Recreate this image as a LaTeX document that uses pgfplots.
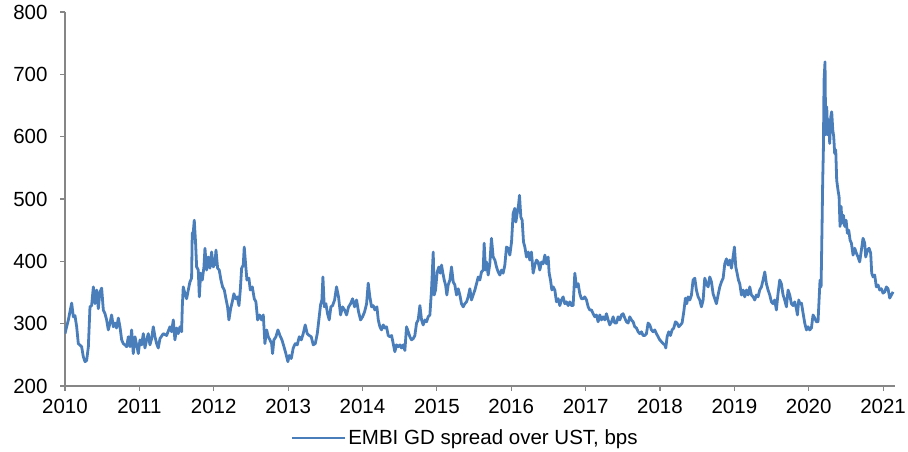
\documentclass[border=0pt]{standalone}
\usepackage{fontspec}
\setmainfont{Liberation Sans}
\usepackage{pgfplots}
\pgfplotsset{compat=1.18}
\usepackage{pgfplotstable}

\definecolor{embiblue}{RGB}{74,126,187}
\definecolor{axisgray}{RGB}{134,134,134}

% EMBI GD spread over UST, bps
\pgfplotstableread{
year spread
2010.000 284
2010.022 295
2010.045 306
2010.090 333
2010.112 311
2010.134 313
2010.157 295
2010.179 268
2010.224 263
2010.246 247
2010.269 239
2010.291 241
2010.314 263
2010.336 327
2010.358 329
2010.381 359
2010.403 332
2010.426 354
2010.448 324
2010.470 351
2010.493 357
2010.515 322
2010.538 316
2010.560 306
2010.582 290
2010.605 301
2010.627 314
2010.650 295
2010.672 301
2010.694 293
2010.717 309
2010.739 295
2010.762 274
2010.784 268
2010.806 266
2010.829 263
2010.851 279
2010.874 263
2010.896 290
2010.918 252
2010.941 279
2010.963 266
2010.986 252
2011.008 274
2011.030 266
2011.053 284
2011.075 261
2011.098 274
2011.120 284
2011.142 266
2011.165 276
2011.187 295
2011.210 279
2011.232 268
2011.254 261
2011.277 276
2011.322 284
2011.366 281
2011.411 295
2011.434 287
2011.456 306
2011.478 274
2011.501 293
2011.523 284
2011.546 295
2011.568 287
2011.577 327
2011.590 359
2011.613 348
2011.635 340
2011.658 354
2011.680 367
2011.702 373
2011.711 445
2011.725 447
2011.738 466
2011.756 429
2011.770 391
2011.792 386
2011.806 343
2011.824 381
2011.846 370
2011.868 391
2011.882 421
2011.904 386
2011.926 407
2011.949 389
2011.971 415
2011.994 391
2012.016 396
2012.030 418
2012.052 389
2012.074 386
2012.097 370
2012.119 359
2012.142 354
2012.164 340
2012.186 327
2012.204 306
2012.227 324
2012.249 335
2012.271 348
2012.294 340
2012.316 343
2012.339 329
2012.357 354
2012.375 389
2012.397 394
2012.410 423
2012.428 396
2012.446 370
2012.473 373
2012.491 354
2012.518 359
2012.545 340
2012.567 335
2012.590 306
2012.616 314
2012.643 306
2012.666 314
2012.688 268
2012.711 290
2012.733 279
2012.755 274
2012.778 268
2012.791 252
2012.809 274
2012.836 279
2012.863 290
2012.890 281
2012.917 274
2012.944 263
2012.970 252
2012.997 239
2013.015 249
2013.042 244
2013.069 261
2013.096 268
2013.123 266
2013.150 279
2013.177 274
2013.203 284
2013.230 298
2013.257 284
2013.284 281
2013.311 279
2013.338 266
2013.365 268
2013.392 284
2013.418 311
2013.436 330
2013.454 338
2013.468 375
2013.486 327
2013.508 332
2013.530 316
2013.553 306
2013.575 327
2013.598 329
2013.625 338
2013.651 359
2013.678 343
2013.705 314
2013.732 327
2013.759 322
2013.786 314
2013.813 327
2013.840 332
2013.867 340
2013.893 327
2013.920 338
2013.947 319
2013.974 306
2014.001 311
2014.028 319
2014.055 332
2014.077 365
2014.099 343
2014.122 327
2014.144 329
2014.167 322
2014.194 327
2014.212 306
2014.234 295
2014.256 290
2014.279 298
2014.301 293
2014.323 295
2014.346 281
2014.368 279
2014.391 281
2014.413 268
2014.435 255
2014.458 266
2014.480 263
2014.503 266
2014.525 261
2014.548 266
2014.570 257
2014.592 295
2014.615 287
2014.637 279
2014.659 274
2014.682 276
2014.704 281
2014.727 301
2014.749 306
2014.772 329
2014.794 306
2014.816 298
2014.839 306
2014.861 303
2014.883 311
2014.906 314
2014.928 354
2014.951 415
2014.964 346
2014.982 354
2015.004 383
2015.027 391
2015.045 381
2015.063 394
2015.081 381
2015.099 370
2015.117 362
2015.134 346
2015.152 362
2015.175 370
2015.197 391
2015.220 367
2015.242 362
2015.264 346
2015.287 356
2015.309 346
2015.331 332
2015.354 327
2015.376 332
2015.399 335
2015.421 343
2015.444 356
2015.466 338
2015.488 346
2015.511 354
2015.533 364
2015.556 375
2015.578 370
2015.600 383
2015.623 386
2015.636 429
2015.654 386
2015.667 399
2015.690 378
2015.712 396
2015.734 437
2015.757 407
2015.780 402
2015.802 391
2015.824 383
2015.847 378
2015.869 386
2015.891 381
2015.914 394
2015.936 423
2015.959 421
2015.981 410
2016.004 431
2016.026 477
2016.048 485
2016.062 463
2016.080 477
2016.098 490
2016.111 506
2016.129 471
2016.147 466
2016.165 431
2016.183 423
2016.205 407
2016.228 415
2016.250 402
2016.272 415
2016.295 381
2016.317 394
2016.340 402
2016.362 399
2016.384 386
2016.407 399
2016.429 396
2016.452 410
2016.474 396
2016.496 407
2016.510 381
2016.528 370
2016.546 354
2016.564 359
2016.586 354
2016.608 335
2016.631 340
2016.653 329
2016.675 338
2016.698 343
2016.720 332
2016.743 335
2016.765 329
2016.788 335
2016.810 329
2016.832 329
2016.855 381
2016.877 359
2016.900 364
2016.922 348
2016.944 340
2016.967 340
2016.989 343
2017.012 338
2017.034 327
2017.056 322
2017.079 322
2017.101 316
2017.124 311
2017.146 314
2017.168 303
2017.191 314
2017.213 306
2017.235 311
2017.258 306
2017.280 316
2017.303 306
2017.325 298
2017.348 303
2017.370 311
2017.392 301
2017.415 301
2017.437 311
2017.460 306
2017.482 314
2017.504 316
2017.527 309
2017.549 303
2017.572 301
2017.594 311
2017.616 306
2017.639 303
2017.661 295
2017.684 293
2017.706 287
2017.728 284
2017.751 287
2017.773 281
2017.796 281
2017.818 284
2017.840 301
2017.863 298
2017.885 290
2017.908 287
2017.930 290
2017.952 284
2017.975 279
2017.997 274
2018.020 271
2018.042 268
2018.065 266
2018.078 261
2018.096 279
2018.118 287
2018.141 281
2018.163 290
2018.185 293
2018.208 303
2018.230 301
2018.253 295
2018.275 298
2018.297 301
2018.320 319
2018.342 341
2018.360 332
2018.378 343
2018.401 338
2018.423 346
2018.445 370
2018.468 373
2018.490 354
2018.513 343
2018.535 338
2018.557 327
2018.580 338
2018.602 373
2018.625 364
2018.647 359
2018.669 375
2018.692 367
2018.714 348
2018.737 340
2018.759 332
2018.781 346
2018.804 359
2018.826 367
2018.849 373
2018.871 396
2018.893 404
2018.916 394
2018.938 402
2018.961 389
2018.983 407
2019.001 423
2019.019 391
2019.037 381
2019.055 370
2019.073 364
2019.095 346
2019.117 354
2019.140 343
2019.162 354
2019.185 346
2019.207 359
2019.229 346
2019.252 343
2019.274 338
2019.296 346
2019.319 343
2019.341 354
2019.364 359
2019.386 370
2019.409 383
2019.431 364
2019.453 354
2019.476 346
2019.498 335
2019.520 332
2019.543 338
2019.565 322
2019.587 348
2019.610 370
2019.632 364
2019.655 346
2019.677 338
2019.700 327
2019.722 354
2019.745 346
2019.767 332
2019.789 329
2019.812 335
2019.834 324
2019.848 314
2019.866 338
2019.879 332
2019.902 333
2019.924 317
2019.946 301
2019.969 290
2019.991 295
2020.013 290
2020.036 293
2020.058 314
2020.081 309
2020.103 303
2020.125 303
2020.139 338
2020.152 370
2020.166 359
2020.179 456
2020.188 530
2020.197 579
2020.206 691
2020.219 720
2020.228 603
2020.242 648
2020.255 603
2020.269 627
2020.282 589
2020.296 632
2020.309 640
2020.323 611
2020.336 600
2020.349 573
2020.363 579
2020.376 530
2020.394 514
2020.408 504
2020.421 456
2020.435 488
2020.448 461
2020.466 474
2020.484 456
2020.502 466
2020.520 445
2020.538 450
2020.556 434
2020.574 429
2020.596 410
2020.618 421
2020.641 413
2020.663 407
2020.685 399
2020.708 418
2020.730 437
2020.753 429
2020.766 407
2020.789 418
2020.811 421
2020.833 413
2020.847 381
2020.865 375
2020.887 378
2020.909 359
2020.932 362
2020.954 354
2020.976 356
2020.999 349
2021.022 351
2021.044 359
2021.066 356
2021.089 341
2021.111 346
2021.134 351
}\embidata

\begin{document}
\begin{tikzpicture}
\useasboundingbox (-65bp,-66bp) rectangle (843bp,386bp);
\begin{axis}[
    scale only axis,
    width=830bp, height=374bp,
    at={(0,0)}, anchor=south west,
    xmin=2010, xmax=2021.16,
    ymin=200, ymax=800,
    xtick={2010,2011,...,2021},
    ytick={200,300,...,800},
    axis x line*=bottom,
    axis y line*=left,
    axis line style={draw=axisgray, line width=1.2bp},
    tick style={draw=axisgray, line width=1.2bp},
    tick align=outside,
    major tick length=5bp,
    /pgf/number format/assume math mode=true,
    x tick label style={/pgf/number format/1000 sep={}, yshift=-5bp},
    ticklabel style={font=\fontsize{20.5bp}{24bp}\selectfont, text=black},
    yticklabel style={xshift=-9bp},
    legend style={
        at={(0.482,-0.139)}, anchor=center,
        draw=none, fill=none, inner sep=0pt,
        font=\fontsize{20.5bp}{24bp}\selectfont,
    },
    legend image code/.code={\draw[#1] (0bp,0bp) -- (53bp,0bp);},
]
\addplot[embiblue, line width=2.8bp, line join=round] table[x=year, y=spread] {\embidata};
\addlegendentry{EMBI GD spread over UST, bps}
\end{axis}
\end{tikzpicture}
\end{document}
